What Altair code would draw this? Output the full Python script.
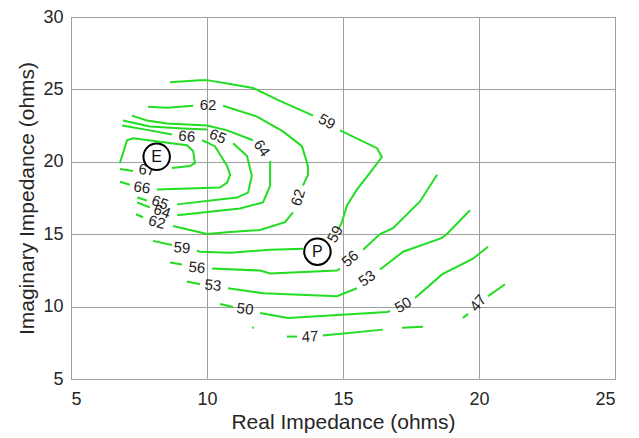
import altair as alt
import pandas as pd

GREEN = "#22dd22"
FONT = "Liberation Sans"

# ---- contour segments (data units), gaps left where labels sit ----
c59a_x = [8.64, 9.74, 10.0, 10.85, 11.69, 12.68, 13.90]
c59a_y = [25.50, 25.64, 25.64, 25.37, 25.10, 24.21, 23.19]
c59b_x = [14.89, 16.25, 16.43, 15.99, 15.51, 15.15, 14.96, 14.85]
c59b_y = [22.17, 20.94, 20.33, 19.24, 18.08, 17.00, 15.83, 15.42]
c59c_x = [13.53, 12.32, 10.85, 9.74, 9.63]
c59c_y = [13.99, 13.92, 13.72, 13.79, 13.86]
c59d_x = [8.71, 8.01]
c59d_y = [14.26, 14.54]

c62a_x = [7.83, 8.53, 9.49]
c62a_y = [23.80, 23.73, 23.87]
c62b_x = [10.59, 11.84, 12.79, 13.49, 13.71, 13.71, 13.53]
c62b_y = [23.87, 23.12, 22.10, 21.08, 19.71, 19.10, 18.35]
c62c_x = [13.16, 12.87, 11.95, 10.85, 10.0, 8.75]
c62c_y = [16.51, 15.83, 15.29, 15.15, 15.01, 15.56]
c62d_x = [7.65, 7.39]
c62d_y = [16.17, 16.38]

c64a_x = [7.24, 7.79, 8.53, 10.0, 10.74, 11.69]
c64a_y = [23.19, 22.85, 22.64, 22.51, 22.17, 21.49]
c64b_x = [12.32, 12.32, 12.06, 11.21, 8.90]
c64b_y = [20.05, 18.35, 17.19, 16.78, 16.31]
c64c_x = [7.90, 7.43]
c64c_y = [16.85, 17.19]

c65a_x = [6.91, 7.90, 9.12, 10.0]
c65a_y = [22.85, 22.44, 22.30, 22.23]
c65b_x = [10.96, 11.47, 11.65, 11.51, 11.10, 8.90]
c65b_y = [21.28, 20.40, 19.03, 17.87, 17.53, 17.06]
c65c_x = [7.79, 7.43]
c65c_y = [17.33, 17.53]

c66a_x = [6.88, 7.90, 8.71]
c66a_y = [22.51, 22.17, 21.89]
c66b_x = [9.82, 10.29, 10.74, 10.85, 10.74, 10.48, 8.16]
c66b_y = [21.49, 21.08, 19.71, 19.10, 18.56, 18.22, 18.08]
c66c_x = [7.17, 6.80]
c66c_y = [18.42, 18.62]

c67a_x = [6.80, 7.06, 7.28, 9.26, 9.49, 9.56, 9.38, 8.71]
c67a_y = [19.92, 21.49, 21.62, 21.14, 20.74, 19.92, 19.71, 19.58]
c67b_x = [7.28, 6.80]
c67b_y = [19.37, 19.51]

c56a_x = [8.64, 9.08]
c56a_y = [13.04, 12.90]
c56b_x = [10.18, 11.95, 12.32, 14.78, 14.89]
c56b_y = [12.63, 12.49, 12.29, 12.49, 12.63]
c56c_x = [15.74, 16.36, 16.84, 17.83, 18.46]
c56c_y = [13.92, 15.01, 15.42, 17.26, 19.10]

c53a_x = [9.26, 9.74]
c53a_y = [11.74, 11.54]
c53b_x = [10.77, 12.06, 14.78, 15.51]
c53b_y = [11.27, 10.93, 10.72, 11.27]
c53c_x = [16.36, 17.21, 18.64, 18.82, 19.67]
c53c_y = [12.56, 13.79, 14.74, 15.01, 16.65]

c50a_x = [10.48, 10.96]
c50a_y = [10.18, 9.97]
c50b_x = [11.95, 12.98, 16.62, 16.73]
c50b_y = [9.56, 9.22, 9.63, 9.70]
c50c_x = [17.65, 18.64, 19.78, 20.33]
c50c_y = [10.59, 12.22, 13.31, 14.13]
c50dot_x = [11.66, 11.72]
c50dot_y = [8.57, 8.52]

c47a_x = [12.94, 13.31]
c47a_y = [7.93, 7.93]
c47b_x = [14.26, 16.47]
c47b_y = [8.00, 8.41]
c47c_x = [17.17, 17.94]
c47c_y = [8.54, 8.61]
c47d_x = [19.41, 19.60]
c47d_y = [9.22, 9.50]
c47e_x = [20.33, 20.96]
c47e_y = [10.72, 11.54]

# ---- contour labels ----
label_text = ["59", "59", "59", "62", "62", "62", "64", "64", "65", "65", "66",
              "66", "67", "56", "56", "53", "53", "50", "50", "47", "47"]
label_x = [14.41, 14.71, 9.08, 10.04, 13.35, 8.16, 12.02, 8.35, 10.40, 8.27, 9.26,
           7.61, 7.79, 9.63, 15.26, 10.22, 15.88, 11.40, 17.21, 13.79, 19.96]
label_y = [22.78, 15.01, 14.06, 23.94, 17.53, 15.83, 20.94, 16.58, 21.76, 17.19, 21.76,
           18.22, 19.44, 12.70, 13.31, 11.47, 11.95, 9.84, 10.11, 7.93, 10.25]
label_angle = [28, -62, 5, 0, -72, 15, 55, 20, 22, 20, 5,
               8, 8, 5, -40, 5, -35, 8, -30, -3, -50]

# ---- markers ----
marker_name = ["E", "P"]
marker_x = [8.15, 14.06]
marker_y = [20.35, 13.79]

segments = [
    ("59a", c59a_x, c59a_y), ("59b", c59b_x, c59b_y), ("59c", c59c_x, c59c_y), ("59d", c59d_x, c59d_y),
    ("62a", c62a_x, c62a_y), ("62b", c62b_x, c62b_y), ("62c", c62c_x, c62c_y), ("62d", c62d_x, c62d_y),
    ("64a", c64a_x, c64a_y), ("64b", c64b_x, c64b_y), ("64c", c64c_x, c64c_y),
    ("65a", c65a_x, c65a_y), ("65b", c65b_x, c65b_y), ("65c", c65c_x, c65c_y),
    ("66a", c66a_x, c66a_y), ("66b", c66b_x, c66b_y), ("66c", c66c_x, c66c_y),
    ("67a", c67a_x, c67a_y), ("67b", c67b_x, c67b_y),
    ("56a", c56a_x, c56a_y), ("56b", c56b_x, c56b_y), ("56c", c56c_x, c56c_y),
    ("53a", c53a_x, c53a_y), ("53b", c53b_x, c53b_y), ("53c", c53c_x, c53c_y),
    ("50a", c50a_x, c50a_y), ("50b", c50b_x, c50b_y), ("50c", c50c_x, c50c_y), ("50dot", c50dot_x, c50dot_y),
    ("47a", c47a_x, c47a_y), ("47b", c47b_x, c47b_y), ("47c", c47c_x, c47c_y),
    ("47d", c47d_x, c47d_y), ("47e", c47e_x, c47e_y),
]

rows = []
for name, xs, ys in segments:
    for i, (xv, yv) in enumerate(zip(xs, ys)):
        rows.append({"seg": name, "ord": i, "x": xv, "y": yv})
lines_df = pd.DataFrame(rows)

labels_df = pd.DataFrame({
    "x": label_x, "y": label_y, "text": label_text,
    "angle": [(a + 360) % 360 for a in label_angle],
})
markers_df = pd.DataFrame({"x": marker_x, "y": marker_y, "name": marker_name})

x_enc = alt.X(
    "x:Q",
    scale=alt.Scale(domain=[5, 25], nice=False, zero=False),
    axis=alt.Axis(
        values=[5, 10, 15, 20, 25], title="Real Impedance (ohms)",
        ticks=False, tickSize=0, domain=False, labelPadding=11,
        labelFontSize=18, titleFontSize=21, labelFont=FONT, titleFont=FONT,
        labelColor="#262626", titleColor="#262626", titleFontWeight="normal",
        gridColor="#a0a0a0", gridWidth=1, titleBaseline="alphabetic", titleY=49,
    ),
)
y_enc = alt.Y(
    "y:Q",
    scale=alt.Scale(domain=[5, 30], nice=False, zero=False),
    axis=alt.Axis(
        values=[5, 10, 15, 20, 25, 30], title="Imaginary Impedance (ohms)",
        ticks=False, tickSize=0, domain=False, labelPadding=8,
        labelFontSize=18, titleFontSize=21, labelFont=FONT, titleFont=FONT,
        labelColor="#262626", titleColor="#262626", titleFontWeight="normal",
        gridColor="#a0a0a0", gridWidth=1, titleBaseline="alphabetic", titleX=-38,
    ),
)

lines = alt.Chart(lines_df).mark_line(color=GREEN, strokeWidth=2).encode(
    x=x_enc, y=y_enc, detail="seg:N", order="ord:Q"
)
labels = alt.Chart(labels_df).mark_text(
    font=FONT, fontSize=15, color="#222222", align="center", baseline="middle"
).encode(x=x_enc, y=y_enc, text="text:N", angle=alt.Angle("angle:Q", scale=None))
circles = alt.Chart(markers_df).mark_point(
    shape="circle", size=700, filled=True, fill="white", stroke="black",
    strokeWidth=2, opacity=1
).encode(x=x_enc, y=y_enc)
marker_text = alt.Chart(markers_df).mark_text(
    font=FONT, fontSize=16, color="#111111", align="center", baseline="middle"
).encode(x=x_enc, y=y_enc, text="name:N")

chart = (
    alt.layer(lines, labels, circles, marker_text)
    .properties(
        width=544, height=362,
        autosize=alt.AutoSizeParams(type="none"),
        padding={"left": 63, "top": 9, "right": 16, "bottom": 55},
        background="white",
    )
    .configure_view(stroke="#333333", strokeWidth=1)
)

chart.save("out.html", embed_options={"renderer": "svg", "actions": False})
